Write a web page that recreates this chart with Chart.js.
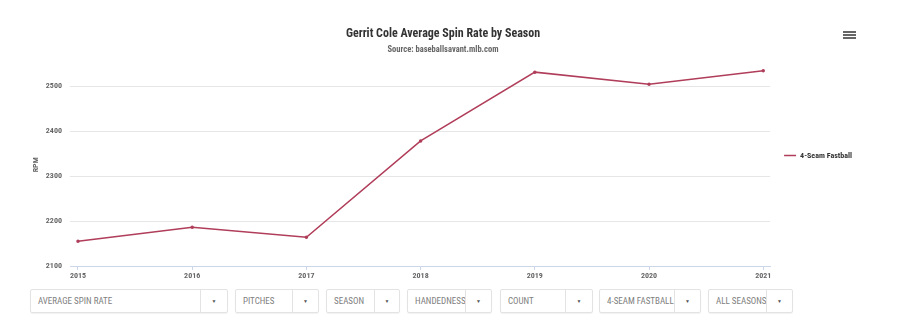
<!DOCTYPE html>
<html>
<head>
<meta charset="utf-8">
<script src="https://cdn.jsdelivr.net/npm/chart.js@4.4.1/dist/chart.umd.min.js"></script>
<style>
  html, body { margin: 0; padding: 0; background: #fff; }
  body { width: 900px; height: 327px; position: relative; overflow: hidden; font-family: "Roboto Condensed", "Liberation Sans Narrow", Roboto, sans-serif; }
  #wrap { position: absolute; left: 0; top: 0; width: 900px; height: 285px; }
  .menu { position: absolute; left: 843px; top: 31px; width: 13px; }
  .menu div { height: 2px; background: #666; margin-bottom: 1px; }
  .dd { position: absolute; top: 289px; height: 24px; border: 1px solid #e3e3e3; border-radius: 2px; box-sizing: border-box; box-shadow: 0 1px 1px rgba(0,0,0,0.05); }
  .dd span { position: absolute; left: 7px; top: 0; line-height: 22px; font-size: 9px; color: #808080; white-space: nowrap; overflow: hidden; }
  .dd i { position: absolute; top: 0; bottom: 0; border-left: 1px solid #e3e3e3; font-style: normal; font-size: 5px; color: #555; text-align: center; line-height: 22px; right: 0; }
</style>
</head>
<body>
<div id="wrap"><canvas id="chart"></canvas></div>
<div class="menu"><div></div><div></div><div></div></div>
<div id="filters"></div>
<script>
// valeurs
const seasons = [2015, 2016, 2017, 2018, 2019, 2020, 2021];
const spinRate = [2155, 2186, 2164, 2378, 2531, 2504, 2534];
const rpmTicks = [2100, 2200, 2300, 2400, 2500];
const filterLabels = ["AVERAGE SPIN RATE", "PITCHES", "SEASON", "HANDEDNESS", "COUNT", "4-SEAM FASTBALL", "ALL SEASONS"];

// menus déroulants sous le graphique
const filterBoxes = [[30, 198, 26], [235, 84, 25], [326, 74, 24], [407, 85, 25], [500, 93, 26], [599, 102, 25], [708, 85, 25]];
const filters = document.getElementById("filters");
filterLabels.forEach((txt, i) => {
  const [left, w, arrowW] = filterBoxes[i];
  const d = document.createElement("div");
  d.className = "dd";
  d.style.left = left + "px";
  d.style.width = w + "px";
  d.innerHTML = `<span style="width:${w - arrowW - 8}px">${txt}</span><i style="width:${arrowW}px">&#9660;</i>`;
  filters.appendChild(d);
});

const lineColor = "#b03d59";
const font = '"Roboto Condensed", "Liberation Sans Narrow", Roboto, sans-serif';

new Chart(document.getElementById("chart"), {
  type: "line",
  data: {
    datasets: [{
      label: "4-Seam Fastball",
      data: seasons.map((s, i) => ({ x: s, y: spinRate[i] })),
      borderColor: lineColor,
      backgroundColor: lineColor,
      borderWidth: 1.5,
      pointRadius: 1,
      pointHoverRadius: 3,
      tension: 0
    }]
  },
  options: {
    responsive: true,
    maintainAspectRatio: false,
    animation: false,
    layout: { padding: { left: 24, right: 38, top: 0, bottom: 0 } },
    plugins: {
      title: {
        display: true,
        text: "Gerrit Cole Average Spin Rate by Season",
        color: "#333",
        font: { family: font, size: 12, weight: "bold" },
        padding: { top: 27, bottom: 3 }
      },
      subtitle: {
        display: true,
        text: "Source: baseballsavant.mlb.com",
        color: "#666",
        font: { family: font, size: 8.5, weight: "bold" },
        padding: { top: 0, bottom: 9 }
      },
      legend: {
        position: "right",
        title: { display: true, text: " ", font: { size: 10 }, padding: 7 },
        labels: {
          color: "#333",
          font: { family: font, size: 8, weight: "bold" },
          usePointStyle: true,
          pointStyle: "line",
          pointStyleWidth: 12,
          padding: 14
        }
      },
      tooltip: { enabled: true }
    },
    scales: {
      x: {
        type: "linear",
        min: 2014.93,
        max: 2021.06,
        afterBuildTicks: scale => { scale.ticks = seasons.map(v => ({ value: v })); },
        afterFit: scale => { scale.height = 19; },
        ticks: {
          color: "#666",
          font: { family: font, size: 8, weight: "bold" },
          padding: 1,
          maxRotation: 0,
          callback: v => String(v)
        },
        grid: { drawOnChartArea: false, tickLength: 4, color: "#ccd6eb" },
        border: { color: "#ccd6eb" }
      },
      y: {
        min: 2100,
        max: 2550,
        afterBuildTicks: scale => { scale.ticks = rpmTicks.map(v => ({ value: v })); },
        afterFit: scale => { scale.width = 46; },
        title: {
          display: true,
          text: "RPM",
          color: "#666",
          font: { family: font, size: 8, weight: "bold" },
          padding: { top: 7, bottom: 0 }
        },
        ticks: {
          color: "#666",
          font: { family: font, size: 8, weight: "bold" },
          padding: 8,
          callback: v => String(v)
        },
        grid: { drawTicks: false, color: "#e6e6e6" },
        border: { display: false }
      }
    }
  }
});
</script>
</body>
</html>
